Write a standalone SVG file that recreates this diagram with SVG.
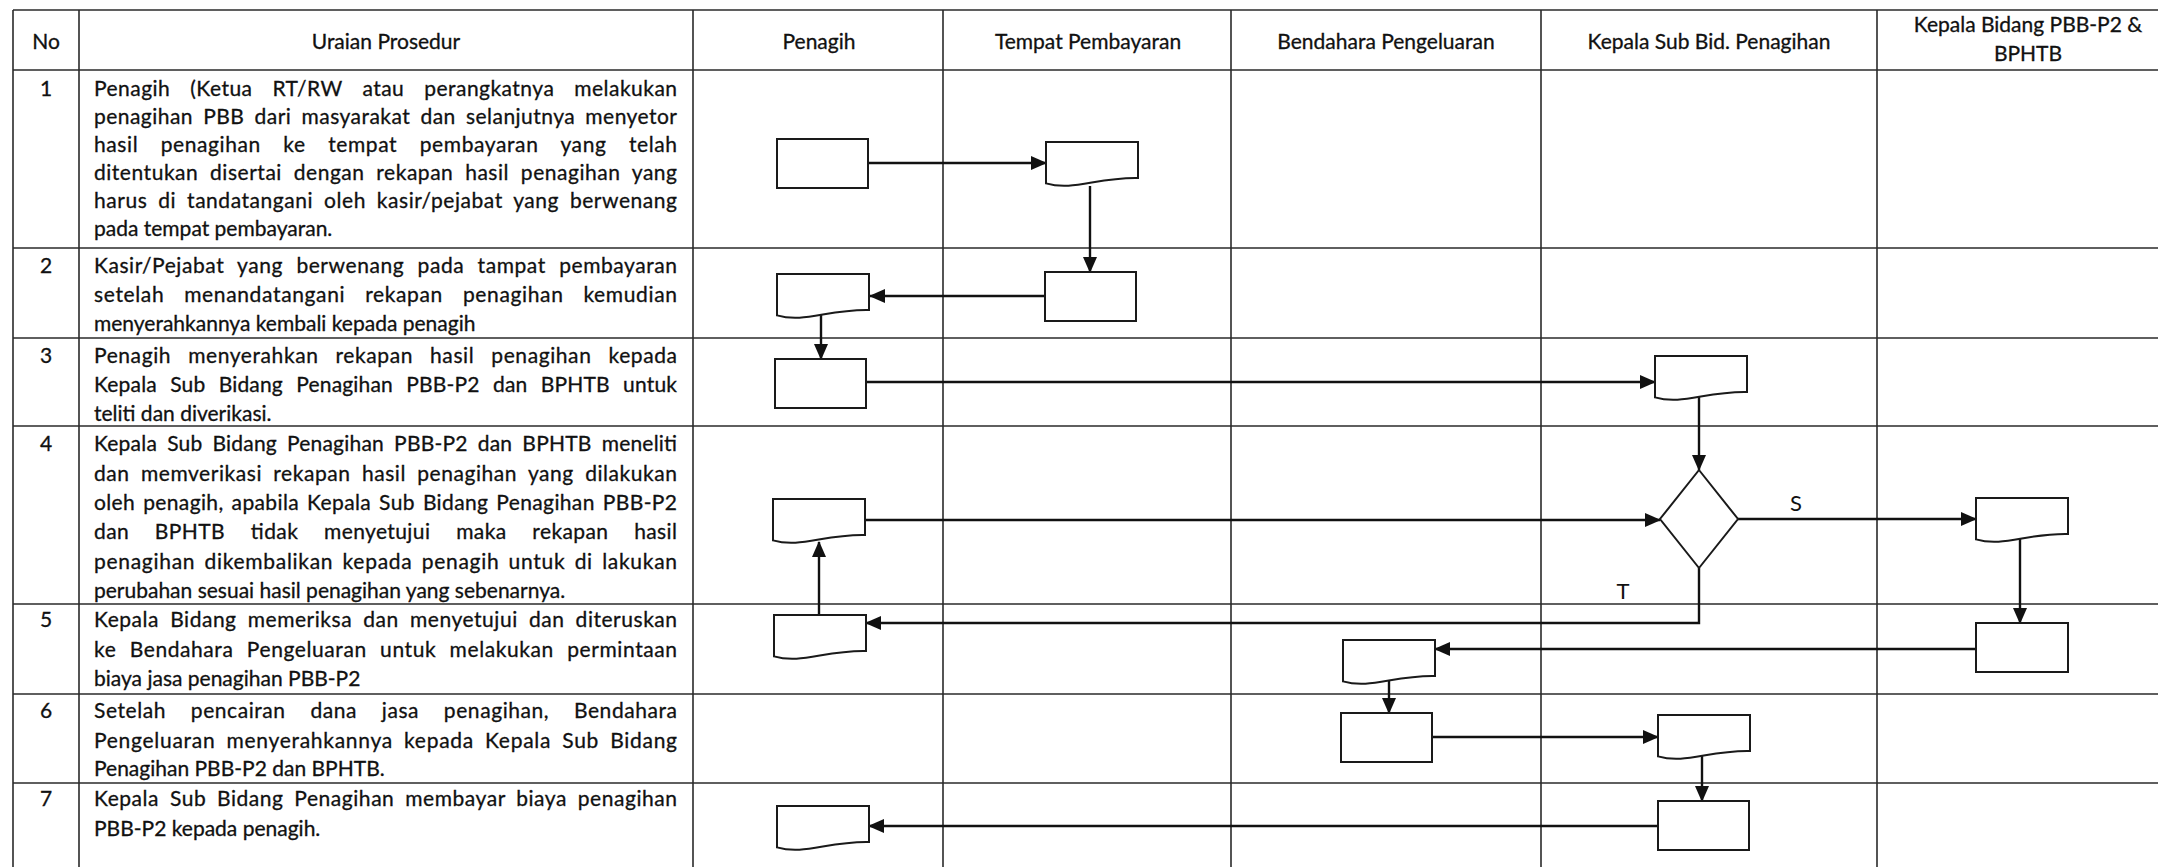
<svg xmlns="http://www.w3.org/2000/svg" xmlns:xlink="http://www.w3.org/1999/xlink" width="2158" height="867" viewBox="0 0 2158 867">
<style>
.grid{stroke:#2b2b2b;stroke-width:1.6;fill:none}
.shape{fill:#fff;stroke:#1a1a1a;stroke-width:2}
.conn{fill:none;stroke:#111;stroke-width:2.4}
.t{font-family:Lato,"Liberation Sans",sans-serif;font-size:21px;fill:#111;stroke:#111;stroke-width:0.3}
.h{font-family:Lato,"Liberation Sans",sans-serif;font-size:21px;fill:#111;stroke:#111;stroke-width:0.3;text-anchor:middle}
.lbl{font-family:Lato,"Liberation Sans",sans-serif;font-size:22px;fill:#111;text-anchor:middle}
</style>
<defs>
<marker id="arr" markerUnits="userSpaceOnUse" markerWidth="16" markerHeight="14" refX="15" refY="7" orient="auto">
<path d="M0,0 L16,7 L0,14 Z" fill="#111"/>
</marker>
<path id="doc" d="M0,0 H92 V36 C50.6,35.1 27.6,49.5 0,41.4 Z"/>
</defs>
<rect x="0" y="0" width="2158" height="867" fill="#fff"/>

<g id="table">
<path class="grid" d="M13,10 H2158 M13,70 H2158 M13,248 H2158 M13,338 H2158 M13,426 H2158 M13,604 H2158 M13,694 H2158 M13,783 H2158"/>
<path class="grid" d="M13,10 V867 M79,10 V867 M693,10 V867 M943,10 V867 M1231,10 V867 M1541,10 V867 M1877,10 V867"/>
</g>

<g id="header">
<text class="h" x="46" y="49">No</text>
<text class="h" x="386" y="49">Uraian Prosedur</text>
<text class="h" x="819" y="49">Penagih</text>
<text class="h" x="1088" y="49">Tempat Pembayaran</text>
<text class="h" x="1386" y="49">Bendahara Pengeluaran</text>
<text class="h" x="1709" y="49">Kepala Sub Bid. Penagihan</text>
<text class="h" x="2028" y="32">Kepala Bidang PBB-P2 &amp;</text>
<text class="h" x="2028" y="61">BPHTB</text>
</g>

<g id="numbers">
<text class="h" x="46" y="96">1</text>
<text class="h" x="46" y="273">2</text>
<text class="h" x="46" y="363">3</text>
<text class="h" x="46" y="451">4</text>
<text class="h" x="46" y="627">5</text>
<text class="h" x="46" y="718">6</text>
<text class="h" x="46" y="806">7</text>
</g>

<g id="uraian">
<text class="t" x="94" y="96" style="word-spacing:14.1px" textLength="583" lengthAdjust="spacing">Penagih (Ketua RT/RW atau perangkatnya melakukan</text>
<text class="t" x="94" y="124" style="word-spacing:4.4px" textLength="583" lengthAdjust="spacing">penagihan PBB dari masyarakat dan selanjutnya menyetor</text>
<text class="t" x="94" y="152" style="word-spacing:16.5px" textLength="583" lengthAdjust="spacing">hasil penagihan ke tempat pembayaran yang telah</text>
<text class="t" x="94" y="180" style="word-spacing:5.9px" textLength="583" lengthAdjust="spacing">ditentukan disertai dengan rekapan hasil penagihan yang</text>
<text class="t" x="94" y="208" style="word-spacing:5px" textLength="583" lengthAdjust="spacing">harus di tandatangani oleh kasir/pejabat yang berwenang</text>
<text class="t" x="94" y="236">pada tempat pembayaran.</text>

<text class="t" x="94" y="273" style="word-spacing:7.4px" textLength="583" lengthAdjust="spacing">Kasir/Pejabat yang berwenang pada tampat pembayaran</text>
<text class="t" x="94" y="302" style="word-spacing:13.9px" textLength="583" lengthAdjust="spacing">setelah menandatangani rekapan penagihan kemudian</text>
<text class="t" x="94" y="331">menyerahkannya kembali kepada penagih</text>

<text class="t" x="94" y="363" style="word-spacing:11.1px" textLength="583" lengthAdjust="spacing">Penagih menyerahkan rekapan hasil penagihan kepada</text>
<text class="t" x="94" y="392" style="word-spacing:7.7px" textLength="583" lengthAdjust="spacing">Kepala Sub Bidang Penagihan PBB-P2 dan BPHTB untuk</text>
<text class="t" x="94" y="421">teliti dan diverikasi.</text>

<text class="t" x="94" y="451" style="word-spacing:4.5px" textLength="583" lengthAdjust="spacing">Kepala Sub Bidang Penagihan PBB-P2 dan BPHTB meneliti</text>
<text class="t" x="94" y="481" style="word-spacing:5.4px" textLength="583" lengthAdjust="spacing">dan memverikasi rekapan hasil penagihan yang dilakukan</text>
<text class="t" x="94" y="510" style="word-spacing:2.3px" textLength="583" lengthAdjust="spacing">oleh penagih, apabila Kepala Sub Bidang Penagihan PBB-P2</text>
<text class="t" x="94" y="539" style="word-spacing:20px" textLength="583" lengthAdjust="spacing">dan BPHTB tidak menyetujui maka rekapan hasil</text>
<text class="t" x="94" y="569" style="word-spacing:3.2px" textLength="583" lengthAdjust="spacing">penagihan dikembalikan kepada penagih untuk di lakukan</text>
<text class="t" x="94" y="598">perubahan sesuai hasil penagihan yang sebenarnya.</text>

<text class="t" x="94" y="627" style="word-spacing:5.3px" textLength="583" lengthAdjust="spacing">Kepala Bidang memeriksa dan menyetujui dan diteruskan</text>
<text class="t" x="94" y="657" style="word-spacing:7.4px" textLength="583" lengthAdjust="spacing">ke Bendahara Pengeluaran untuk melakukan permintaan</text>
<text class="t" x="94" y="686">biaya jasa penagihan PBB-P2</text>

<text class="t" x="94" y="718" style="word-spacing:18.8px" textLength="583" lengthAdjust="spacing">Setelah pencairan dana jasa penagihan, Bendahara</text>
<text class="t" x="94" y="748" style="word-spacing:5px" textLength="583" lengthAdjust="spacing">Pengeluaran menyerahkannya kepada Kepala Sub Bidang</text>
<text class="t" x="94" y="776">Penagihan PBB-P2 dan BPHTB.</text>

<text class="t" x="94" y="806" style="word-spacing:4.9px" textLength="583" lengthAdjust="spacing">Kepala Sub Bidang Penagihan membayar biaya penagihan</text>
<text class="t" x="94" y="836">PBB-P2 kepada penagih.</text>
</g>

<g id="connectors">
<path class="conn" marker-end="url(#arr)" d="M868,163 H1046"/>
<path class="conn" marker-end="url(#arr)" d="M1090,186 V272"/>
<path class="conn" marker-end="url(#arr)" d="M1045,296 H870"/>
<path class="conn" marker-end="url(#arr)" d="M821,315 V359"/>
<path class="conn" marker-end="url(#arr)" d="M866,382 H1655"/>
<path class="conn" marker-end="url(#arr)" d="M1699,397 V470"/>
<path class="conn" marker-end="url(#arr)" d="M865,520 H1660"/>
<path class="conn" marker-end="url(#arr)" d="M1738,519 H1976"/>
<path class="conn" marker-end="url(#arr)" d="M1699,568 V623 H866"/>
<path class="conn" marker-end="url(#arr)" d="M819,615 V542"/>
<path class="conn" marker-end="url(#arr)" d="M2020,539 V623"/>
<path class="conn" marker-end="url(#arr)" d="M1976,649 H1435"/>
<path class="conn" marker-end="url(#arr)" d="M1389,681 V713"/>
<path class="conn" marker-end="url(#arr)" d="M1432,737 H1658"/>
<path class="conn" marker-end="url(#arr)" d="M1702,755 V801"/>
<path class="conn" marker-end="url(#arr)" d="M1658,826 H869"/>
<text class="lbl" x="1796" y="511">S</text>
<text class="lbl" x="1623" y="599">T</text>
</g>

<g id="P1"><rect class="shape" x="777" y="139" width="91" height="49"/></g>
<g id="T1"><use class="shape" xlink:href="#doc" x="1046" y="142"/></g>
<g id="T2"><rect class="shape" x="1045" y="272" width="91" height="49"/></g>
<g id="P2"><use class="shape" xlink:href="#doc" x="777" y="274"/></g>
<g id="P3"><rect class="shape" x="775" y="359" width="91" height="49"/></g>
<g id="K3"><use class="shape" xlink:href="#doc" x="1655" y="356"/></g>
<g id="K4"><polygon class="shape" points="1699,470 1738,519 1699,568 1660,519"/></g>
<g id="P4"><use class="shape" xlink:href="#doc" x="773" y="499"/></g>
<g id="KB4"><use class="shape" xlink:href="#doc" x="1976" y="498"/></g>
<g id="P5"><use class="shape" xlink:href="#doc" x="774" y="615"/></g>
<g id="KB5"><rect class="shape" x="1976" y="623" width="92" height="49"/></g>
<g id="B5"><use class="shape" xlink:href="#doc" x="1343" y="640"/></g>
<g id="B6"><rect class="shape" x="1341" y="713" width="91" height="49"/></g>
<g id="K6"><use class="shape" xlink:href="#doc" x="1658" y="715"/></g>
<g id="K7"><rect class="shape" x="1658" y="801" width="91" height="49"/></g>
<g id="P7"><use class="shape" xlink:href="#doc" x="777" y="806"/></g>
</svg>
